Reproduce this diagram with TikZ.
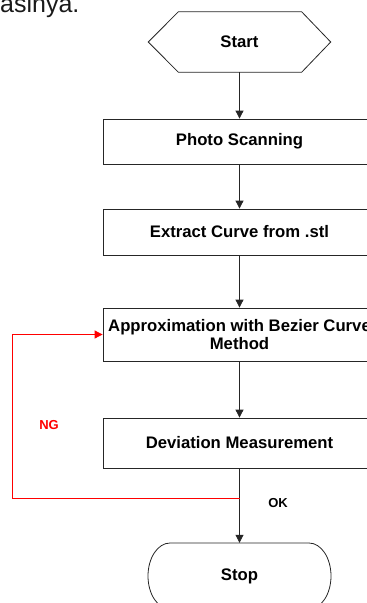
\documentclass[tikz,border=0pt]{standalone}
\usepackage{fontspec}
\setmainfont{Liberation Sans}
\usetikzlibrary{arrows.meta,calc}
\begin{document}
\begin{tikzpicture}[x=1pt,y=1pt,
  line/.style={line width=0.8pt, draw=black!85},
  flow/.style={line, -{Triangle[width=8pt,length=8pt]}},
  back/.style={line width=0.8pt, draw=red, -{Triangle[width=8pt,length=8pt]}},
  lbl/.style={font=\fontsize{16.7}{18.5}\selectfont\bfseries},
  stepbox/.style={line, lbl, rectangle, minimum width=273pt, inner sep=2pt, align=center},
  tag/.style={font=\fontsize{13}{15}\selectfont\bfseries}]
  \useasboundingbox (0,0) rectangle (367,-603);
  \clip (0,0) rectangle (367,-603);

  % running text above the chart
  \node[anchor=base west, inner sep=0pt, font=\fontsize{25}{28}\selectfont, text=black!90]
    (para) at (0,-12) {asinya.};

  % start: hexagon
  \node[lbl, minimum width=182pt, minimum height=60pt, inner sep=0pt] (start) at (239.5,-42) {Start};
  \draw[line] (start.west) -- ($(start.north west)+(30,0)$) -- ($(start.north east)+(-29,0)$)
    -- (start.east) -- ($(start.south east)+(-29,0)$) -- ($(start.south west)+(30,0)$) -- cycle;

  % process steps
  \node[stepbox, minimum height=45pt] (scan) at (239.5,-141.5) {Photo Scanning};
  \node[stepbox, minimum height=46pt] (extr) at (239.5,-232) {Extract Curve from .stl};
  \node[stepbox, minimum height=53pt] (appr) at (239.5,-334.5) {Approximation with Bezier Curve\\Method};
  \node[stepbox, minimum height=50pt] (dev) at (239.5,-443) {Deviation Measurement};

  % stop: terminator with elliptic ends
  \node[lbl, minimum width=183pt, minimum height=66pt, inner sep=0pt] (stop) at (239.5,-576) {Stop};
  \draw[line] ($(stop.center)+(-69.5,33)$) -- ++(139,0)
    arc[start angle=90, end angle=-90, x radius=22, y radius=33] -- ++(-139,0)
    arc[start angle=270, end angle=90, x radius=22, y radius=33] -- cycle;

  % main flow
  \draw[flow] (start) -- (scan);
  \draw[flow] (scan) -- (extr);
  \draw[flow] (extr) -- (appr);
  \draw[flow] (appr) -- (dev);
  \draw[flow] (dev) -- (stop);

  % loop back when the deviation is not good
  \coordinate (split) at (239.5,-498);
  \coordinate (ng) at (12,-498);
  \draw[back] (split) -- (ng) |- (appr.west);

  \node[tag, text=red] (nglbl) at (49,-425) {NG};
  \node[tag] (oklbl) at (278,-503) {OK};
\end{tikzpicture}
\end{document}
